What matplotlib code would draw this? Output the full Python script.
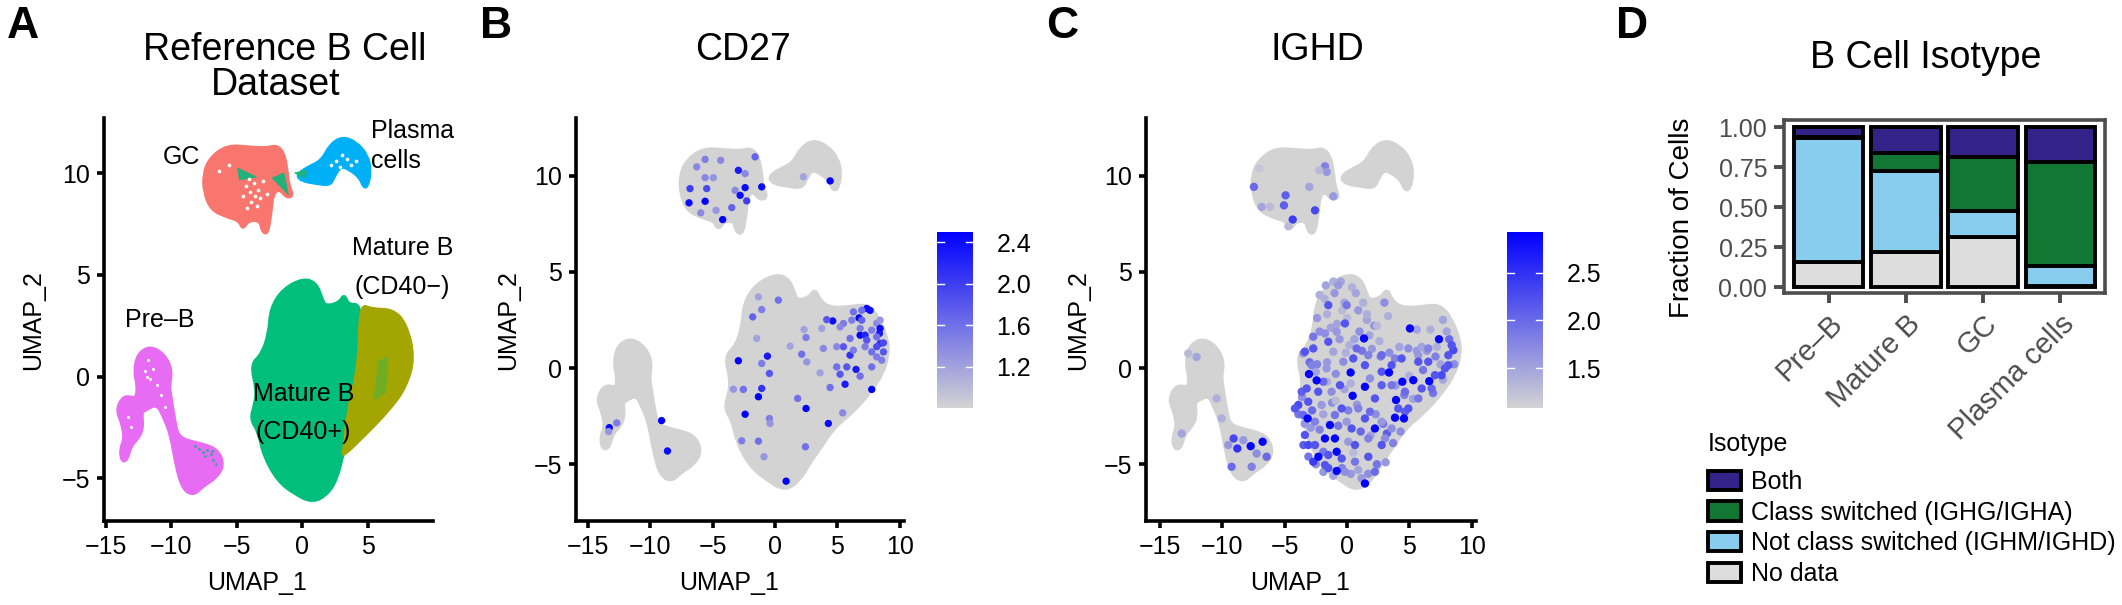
import matplotlib
matplotlib.use('Agg')
import matplotlib.pyplot as plt
from matplotlib.colors import LinearSegmentedColormap
from matplotlib.patches import Patch, PathPatch
from matplotlib.path import Path

plt.rcParams['font.family'] = ['Liberation Sans', 'DejaVu Sans']

# Cluster outlines
mature_x = [0.13, 1.07, 1.47, 1.74, 2.81, 3.21, 3.48, 4.28, 5.75, 7.36, 8.29, 8.96, 9.0, 8.56, 7.49, 6.02, 4.68,
            3.61, 2.67, 2.0, 0.8, -0.67, -1.87, -2.94, -3.34, -3.96, -3.61, -3.48, -3.93, -3.08, -2.54, -2.41, -1.47]
mature_y = [4.83, 4.57, 3.88, 3.45, 3.62, 4.05, 3.53, 3.1, 3.1, 3.27, 2.58, 1.45, 0.68, -0.28, -1.32, -2.35, -3.05,
            -4.09, -4.95, -5.73, -6.34, -5.73, -5.12, -3.91, -2.7, -2.09, -1.32, -0.62, 0.59, 1.11, 2.15, 3.36, 4.31]
cd40pos_x = [0.13, 1.07, 1.47, 1.74, 2.81, 3.21, 3.48, 4.48, 4.35, 4.2, 3.45, 3.2, 3.05, 2.67, 2.0, 0.8, -0.67,
             -1.87, -2.94, -3.34, -3.96, -3.61, -3.48, -3.93, -3.08, -2.54, -2.41, -1.47]
cd40pos_y = [4.83, 4.57, 3.88, 3.45, 3.62, 4.05, 3.53, 3.55, 1.66, 0.19, -1.79, -3.6, -3.93, -4.95, -5.73, -6.2, -5.73,
             -5.12, -3.91, -2.7, -2.09, -1.32, -0.62, 0.59, 1.11, 2.15, 3.36, 4.31]
cd40neg_x = [4.48, 5.3, 6.87, 7.9, 8.55, 7.9, 6.64, 4.6, 3.05, 3.2, 3.45, 4.2, 4.35]
cd40neg_y = [3.55, 3.3, 3.3, 2.63, 0.96, -0.51, -1.63, -2.98, -3.93, -3.6, -1.79, 0.19, 1.66]
streak_x = [5.8, 6.6, 6.4, 5.4]
streak_y = [0.8, 1.0, -0.8, -1.2]
preb_x = [-11.64, -10.57, -9.98, -10.17, -10.08, -9.76, -9.5, -8.43, -7.36, -6.42, -6.02, -6.55, -7.62, -8.29, -9.1,
          -9.63, -10.03, -10.57, -11.1, -12.04, -12.3, -12.17, -12.57, -13.11, -13.38, -13.78, -13.91, -13.56, -13.78,
          -14.18, -13.78, -13.24, -12.7, -12.57, -12.84, -12.57]
preb_y = [1.49, 1.11, 0.33, -0.45, -0.88, -2.18, -2.96, -3.22, -3.36, -3.65, -4.35, -4.95, -5.39, -5.82, -5.56,
          -4.43, -2.87, -2.01, -1.32, -1.66, -1.75, -2.53, -3.05, -3.39, -4.09, -4.17, -3.57, -3.05, -2.27,
          -1.66, -1.06, -0.97, -1.11, -0.45, 0.24, 1.11]
gc_x = [-5.75, -3.88, -2.67, -2.0, -1.47, -1.2, -1.07, -0.72, -1.2, -1.74, -2.27, -2.41, -2.67, -3.08, -3.21, -4.15,
        -4.55, -4.82, -5.75, -6.96, -7.49, -7.54, -7.09]
gc_y = [11.38, 11.27, 11.24, 11.36, 11.06, 10.29, 9.42, 8.9, 8.81, 9.25, 8.99, 8.04, 7.0, 7.17, 7.69, 7.69,
        7.25, 7.69, 7.86, 8.21, 9.07, 9.94, 10.72]
plasma_x = [-0.45, 0.4, 1.47, 2.14, 3.08, 4.15, 4.95, 5.22, 4.95, 4.68, 4.41, 3.61, 2.94, 2.41, 2.14, 1.07, 0.0]
plasma_y = [9.9, 10.29, 10.6, 11.41, 11.79, 11.5, 10.89, 10.11, 9.33, 9.33, 9.8, 10.2, 10.37, 9.85, 9.42, 9.51, 9.63]

# Small green bits inside GC and the plasma tail (panel A only)
gc_patch_x = [[-4.96, -3.5, -4.8], [-2.3, -1.4, -1.07], [-0.6, 0.4, 0.15]]
gc_patch_y = [[10.27, 9.82, 9.67], [9.77, 10.02, 8.94], [10.02, 10.17, 9.77]]
gc_hole_x = [-4.3, -4.0, -3.7, -3.4, -4.5, -3.9, -3.2, -4.1, -3.6, -2.7, -5.6, -6.4, -3.0, -4.2, -3.5]
gc_hole_y = [9.4, 9.1, 9.5, 9.2, 8.9, 8.6, 8.8, 9.7, 8.9, 9.0, 10.4, 10.1, 9.6, 8.3, 8.4]
plasma_hole_x = [2.6, 3.0, 3.4, 3.7, 2.2, 2.9, 4.1]
plasma_hole_y = [10.6, 10.9, 10.7, 10.4, 10.4, 10.3, 10.6]
preb_hole_x = [-11.8, -11.4, -12.0, -11.6, -11.1, -10.8, -10.5, -13.3, -13.1, -11.9]
preb_hole_y = [0.8, 0.4, 0.3, -0.1, -0.4, -0.9, -1.5, -2.0, -2.5, 0.0]
preb_teal_x = [-7.9, -7.6, -7.3, -7.0, -6.8, -6.6, -7.4, -6.9, -8.2]
preb_teal_y = [-3.55, -3.7, -3.6, -3.8, -4.1, -4.3, -3.9, -3.65, -3.4]

# CD27 expressing cells
cd27_x = [-5.61, -6.9, -4.2, -2.27, -3.47, -5.48, -6.82, -5.61, -6.28, -4.36, -2.4, -3.2, -2.94, -1.07, -2.4, -2.8,
          -5.96, -4.73, -1.6, -5.61, -4.95, 4.42, 2.28, -2.94, -1.07, -1.33, -2.4, 0.89, 2.49, 4.28, 1.82, -0.45,
          -0.4, -2.67, -1.33, -0.88, 2.44, 5.43, 0.27, -1.79, -1.33, -1.47, -1.07, 2.33, 2.49, 1.21, 2.14, 2.55,
          3.62, 3.75, 3.88, -0.45, -1.07, -0.61, -3.34, -2.54, 4.63, 4.15, 5.76, 4.95, 5.22, 6.02, 6.02, 6.5,
          6.83, 4.42, 5.62, 7.76, 5.49, 6.29, 6.74, 6.83, 7.23, 8.38, 8.43, 8.7, 8.16, 7.36, 7.63, 6.96, 6.29,
          6.16, 5.49, 5.22, 6.83, 7.36, 7.76, 8.16, 8.43, 7.76, 8.16, 8.7, 4.95, 7.23, 6.96, 8.43, 8.16, 8.56,
          7.76, -13.3, -12.7, -13.35, -9.1, -8.63]
cd27_y = [8.67, 8.59, 7.72, 8.69, 8.34, 9.33, 9.33, 9.9, 10.46, 10.8, 10.11, 9.24, 10.28, 9.42, 9.38, 8.98,
          8.07, 8.2, 10.98, 10.85, 9.9, 9.73, 9.94, 0.38, -1.06, -1.49, -2.4, -5.88, -2.1, -2.88, -1.58, -2.62,
          -2.88, -3.78, -3.8, -4.61, -4.09, -2.33, 3.53, 2.66, 3.7, 1.54, 3.04, 2.0, 1.59, 1.14, 0.72, 0.32,
          -0.25, 2.06, 1.02, -0.28, 0.24, 0.62, -1.1, -1.11, 2.45, 2.52, 0.06, 0.06, -0.32, 1.54, 0.67, -0.07,
          -0.42, -1.01, -0.84, -1.11, 1.11, 0.93, 2.61, 1.71, 1.71, 1.8, 1.28, 1.31, 1.11, 3.1, 3.0, 3.0, 2.92,
          2.49, 2.32, 2.14, 2.06, 1.45, 1.97, 2.32, 2.49, 0.84, 0.58, 0.84, 1.11, 1.11, 2.49, 2.06, 1.62, 0.41,
          0.06, -3.1, -2.85, -3.3, -2.73, -4.31]
cd27_val = [2.5, 2.4, 2.5, 2.0, 1.7, 1.9, 2.0, 1.4, 1.4, 1.4, 1.4, 1.4, 2.3, 2.4, 2.4, 2.4,
            1.4, 1.3, 1.7, 1.5, 1.3, 2.5, 1.2, 2.5, 2.1, 2.5, 2.5, 2.5, 2.5, 2.4, 1.6, 1.5,
            1.3, 1.5, 1.6, 1.3, 1.6, 1.4, 1.6, 1.7, 1.2, 1.2, 1.5, 1.2, 1.5, 1.2, 1.6, 1.3,
            1.2, 1.2, 1.4, 1.8, 1.5, 2.3, 1.3, 1.6, 2.4, 1.8, 1.8, 1.6, 1.8, 1.6, 2.1, 2.3,
            1.6, 1.6, 2.3, 2.5, 1.8, 1.5, 2.5, 2.5, 2.2, 2.3, 2.1, 1.9, 1.9, 2.4, 2.4, 1.6, 1.6,
            1.5, 1.5, 1.4, 1.5, 1.8, 1.5, 1.4, 1.3, 1.6, 1.5, 1.8, 1.4, 1.5, 1.7, 2.4, 1.6, 1.5,
            1.6, 2.5, 1.5, 1.3, 2.5, 2.4]

# IGHD expressing cells, light ones first so the strong ones stay on top
ighd_light_x = [-3.6, -3.9, -3.4, -2.8, -2.9, -2.2, -1.9, -1.2, -0.7, -0.2, 0.1, 0.8, 1.1, 1.9, 2.3, 2.9, 3.2, 3.9, 4.6,
                5.3, 6.1, 6.4, 7.1, 7.5, 8.2, 8.6, 7.7, 6.9, 5.6, 5.0, 4.2, 3.4, 2.7, 2.0, 1.2, 0.6, -0.1, -0.9, -1.6,
                -2.4, -3.0, -3.5, -3.1, -2.5, -1.9, -1.1, -0.4, 0.3, 0.9, 1.7, 2.4, 3.1, 3.7, 4.3, -2.2, -1.3, -0.6, 0.2,
                1.0, 1.8, 2.6, -2.4, -1.6, -0.8, 0.0, 0.9, 1.6, 2.2, -1.8, -1.0, -0.2, 0.7, 1.3, -0.5, 0.4,
                -2.2, -1.7, -1.1, -0.4, 0.3, -2.5, -1.6, -0.9, 0.5, 3.3, 2.4, 1.6, 3.0, 5.6, 6.7, 7.7, 8.0, 7.2, 6.0,
                -1.77, -0.83, -0.03, -0.7, -2.71, -1.1, -0.3, 0.77, 1.71, -1.64, -1.9, -1.24, -3.91, -3.51, -2.57,
                -2.04, -0.97, -0.03, 0.9, 1.84, 2.78, 3.58, 4.65, 5.72, 6.79, 7.59, 8.13, 8.53, 6.52, 5.72, 4.92,
                3.85, 2.78, 2.78, 3.58, 4.65, 1.84, -3.11, -2.71, -1.9, -1.5, -0.17, 0.64, 1.17, 2.24, 3.05, 1.71,
                0.1, -3.64, -2.84, -3.51]
ighd_light_y = [-1.5, -2.4, -2.9, -2.2, -3.1, -3.2, -2.4, -1.8, -3.0, -1.1, -2.2, -1.9, -3.3, -3.5, -2.4, -2.9, -3.4, -0.9, -1.4,
                -1.6, -0.1, 0.9, 0.6, 0.2, 1.5, 0.2, -0.6, -1.3, 0.9, -0.4, 1.1, 0.8, 0.6, 1.0, 0.9, 1.5, 0.8, -0.3, 0.3,
                0.2, 0.3, -4.0, -4.6, -5.0, -5.4, -5.6, -5.2, -5.5, -5.3, -5.5, -5.0, -4.9, -3.9, -3.3, 1.9, 2.1, 1.5, 1.2,
                1.9, 1.7, 1.4, 2.6, 2.8, 2.3, 2.6, 3.0, 2.5, 2.2, 3.6, 3.9, 3.4, 3.9, 3.4, 4.5, 4.2,
                3.8, 4.3, 4.5, 3.0, -0.8, -0.2, -0.7, -1.7, -4.4, 2.7, 2.2, 2.8, 3.4, 2.0, 2.0, 2.5, 1.9, 1.1, 1.1,
                1.8, 1.89, 3.27, 4.31, 1.63, 0.85, 0.33, 1.02, 0.67, -0.02, -0.71, -1.23, -1.92, -2.44, -2.79,
                -1.92, -2.44, -2.79, -2.1, -2.27, -2.79, -3.14, -2.27, -1.58, -1.06, -0.37, 0.15, 0.93, 1.02, 0.67, 1.02,
                0.5, 0.67, -0.89, -0.89, -1.23, -0.54, -4.0, -4.87, -4.35, -5.2, -5.39, -4.87, -5.73, -5.39, -3.66, -3.66,
                -3.83, -1.23, 0.15, 0.76]
ighd_light_val = [1.7, 1.9, 1.6, 2.0, 1.6, 1.8, 1.5, 1.7, 1.9, 1.5, 1.8, 1.6, 2.0, 1.5, 1.7, 1.9, 2.1, 1.6, 1.8,
                  1.5, 1.9, 1.6, 1.8, 1.5, 2.0, 1.7, 1.5, 1.9, 1.6, 1.4, 1.5, 1.7, 1.8, 1.6, 1.9, 1.5, 1.4, 1.7, 1.6,
                  1.8, 2.0, 2.1, 1.9, 1.7, 1.6, 1.5, 1.8, 1.6, 1.5, 1.7, 1.9, 1.6, 1.8, 1.7, 1.7, 1.5, 1.6, 1.4,
                  1.7, 1.5, 1.4, 1.6, 1.4, 1.5, 1.3, 1.6, 1.5, 1.7, 1.4, 1.6, 1.5, 1.5, 1.4, 1.5, 1.4,
                  1.4, 1.5, 1.4, 1.3, 1.4, 1.5, 1.4, 1.3, 1.3, 1.4, 1.3, 1.4, 1.7, 1.5, 1.4, 1.5, 1.5, 1.4, 1.5,
                  1.7, 1.6, 1.9, 1.6, 1.9, 1.5, 1.7, 2.0, 1.8, 1.6, 2.0, 1.7, 2.3, 2.0, 1.8,
                  1.6, 1.9, 1.6, 1.8, 2.0, 1.6, 1.7, 2.1, 1.9, 2.0, 2.3, 2.2, 2.3, 1.8, 1.6, 1.7,
                  1.8, 2.0, 2.1, 1.9, 2.0, 1.7, 2.3, 2.4, 1.9, 2.2, 1.7, 1.9, 1.6, 2.0, 1.7, 1.8,
                  1.6, 2.1, 1.8, 1.6]
ighd_mid_x = [-4.18, -3.24, -3.11, -2.31, -3.38, -2.57, -1.5, -1.77, -0.43, 0.64, 1.71, 2.78, 0.37, 1.44, -0.43,
              -0.57, 0.5, 1.44, 2.78, 3.58, 2.24, 4.11, 4.92, 5.99, 7.06, 8.13, 8.4, 7.86, 6.52, 5.72, 4.38, -1.5,
              -0.17, -1.5, -2.71, -3.38]
ighd_mid_y = [-2.1, -1.06, -1.75, -1.23, -3.48, -4.0, -4.52, -5.04, -4.7, -4.0, -4.61, -4.0, -3.14, -2.62, -2.1,
              -0.89, 0.5, 0.15, -0.19, 0.15, -1.58, -2.1, -2.1, -1.06, -0.37, 0.67, 1.19, -0.02, 0.33, 0.33, 0.5, 3.27,
              2.32, 1.37, 1.02, 0.85]
ighd_mid_val = [2.2] * len(ighd_mid_x)
ighd_high_x = [-3.05, -2.44, -3.16, -1.77, -0.97, 0.29, 1.44, 0.45, -0.83, -0.83, 2.24, 3.93, 3.85, 4.57, 4.44, 5.32,
               5.05, 7.38, 3.37, 1.36, -1.37, 1.44, -2.3, 6.6]
ighd_high_y = [-0.31, -0.64, -2.62, -3.66, -3.66, -0.23, -0.97, -1.44, -5.35, -4.35, -3.14, -1.66, -2.58, -2.62, -0.71, -0.63,
               2.06, 1.5, -0.23, 1.54, -2.96, -6.0, -4.61, -0.68]
ighd_high_val = [2.9] * len(ighd_high_x)
ighd_other_x = [-7.73, -6.77, -8.8, -9.1, -7.65, -9.26, -6.45, -8.32, -9.53, -7.25, -12.07, -12.74, -13.27, -10.46, -10.06,
                -7.47, -4.93, -5.06, -4.36, -1.77, -1.63, -2.22, -3.03, -1.1, -6.85, -6.18, -7.04, -4.71, -2.57]
ighd_other_y = [-4.06, -3.83, -4.18, -3.66, -5.13, -5.13, -4.61, -3.75, -4.0, -4.44, 0.58, 0.76, -3.4, -1.58, -2.62,
                9.42, 8.98, 8.46, 7.72, 10.49, 10.2, 10.28, 9.42, 8.93, 8.38, 8.38, 10.37, 7.37, 8.2]
ighd_other_val = [2.9, 2.9, 2.5, 2.3, 1.8, 2.0, 2.0, 1.6, 1.6, 1.7, 1.5, 1.3, 1.5, 1.4, 1.4,
                  2.0, 2.1, 2.1, 2.4, 1.8, 1.6, 1.3, 1.5, 1.6, 1.5, 1.3, 1.2, 1.3, 2.3]
ighd_x = ighd_light_x + ighd_mid_x + ighd_high_x + ighd_other_x
ighd_y = ighd_light_y + ighd_mid_y + ighd_high_y + ighd_other_y
ighd_val = ighd_light_val[:len(ighd_light_x)] + ighd_mid_val + ighd_high_val + ighd_other_val

# Stacked bars in panel D
cell_types = ['Pre\u2013B', 'Mature B', 'GC', 'Plasma cells']
no_data = [0.156, 0.216, 0.314, 0.005]
not_switched = [0.774, 0.509, 0.164, 0.128]
class_switched = [0.01, 0.111, 0.337, 0.647]
both = [0.06, 0.164, 0.185, 0.22]
isotypes = ['Both', 'Class switched (IGHG/IGHA)', 'Not class switched (IGHM/IGHD)', 'No data']
isotype_colors = ['#332288', '#117733', '#88CCEE', '#DDDDDD']

W, H = 2122, 605
cell_colors = {'gc': '#F8766D', 'cd40neg': '#A3A500', 'cd40pos': '#00BF7D', 'plasma': '#00B0F6', 'preb': '#E76BF3'}
feature_cmap = LinearSegmentedColormap.from_list('feature', ['#D3D3D3', '#0000FF'])
FS = 18


def add_axes_px(fig, left, right, top, bottom):
    return fig.add_axes([left / W, 1 - bottom / H, (right - left) / W, (bottom - top) / H])


def fig_text(fig, x, y, s, **kw):
    kw.setdefault('ha', 'center')
    kw.setdefault('va', 'center')
    fig.text(x / W, 1 - y / H, s, **kw)


def add_blob(ax, xs, ys, color, lw):
    # rounded outline: the read points are the control points of quadratic curves
    n = len(xs)
    mids = [((xs[i] + xs[(i + 1) % n]) / 2, (ys[i] + ys[(i + 1) % n]) / 2) for i in range(n)]
    verts = [mids[-1]]
    codes = [Path.MOVETO]
    for i in range(n):
        verts += [(xs[i], ys[i]), mids[i]]
        codes += [Path.CURVE3, Path.CURVE3]
    ax.add_patch(PathPatch(Path(verts, codes), facecolor=color, edgecolor=color, lw=lw, joinstyle='round'))


def style_umap(ax, xlim, ylim, xticks):
    ax.set_xlim(*xlim)
    ax.set_ylim(*ylim)
    ax.set_xticks(xticks)
    ax.set_yticks([-5, 0, 5, 10])
    for side in ['top', 'right']:
        ax.spines[side].set_visible(False)
    for side in ['left', 'bottom']:
        ax.spines[side].set_linewidth(2.6)
    ax.tick_params(width=2.6, length=5, labelsize=FS, pad=5)


fig = plt.figure(figsize=(W / 100, H / 100), dpi=100)

# Panel A
ax_a = add_axes_px(fig, 104, 433, 118, 521)
for xs, ys, key in [(cd40pos_x, cd40pos_y, 'cd40pos'), (cd40neg_x, cd40neg_y, 'cd40neg'),
                    (gc_x, gc_y, 'gc'), (plasma_x, plasma_y, 'plasma'), (preb_x, preb_y, 'preb')]:
    add_blob(ax_a, xs, ys, cell_colors[key], 2.5)
ax_a.fill(streak_x, streak_y, color='#00BF7D', alpha=0.3, lw=0)
for xs, ys in zip(gc_patch_x, gc_patch_y):
    ax_a.fill(xs, ys, color='#1FB27A', lw=0.5)
ax_a.scatter(gc_hole_x + plasma_hole_x, gc_hole_y + plasma_hole_y, s=7, color='white', lw=0)
ax_a.scatter(preb_hole_x, preb_hole_y, s=5, color='white', lw=0)
ax_a.scatter(preb_teal_x, preb_teal_y, s=4, color='#2FA89A', lw=0)
style_umap(ax_a, (-15.15, 9.98), (-7.1, 12.72), [-15, -10, -5, 0, 5])
ax_a.text(-9.24, 10.8, 'GC', fontsize=FS, ha='center', va='center')
ax_a.text(5.27, 12.08, 'Plasma', fontsize=FS, ha='left', va='center')
ax_a.text(5.27, 10.6, 'cells', fontsize=FS, ha='left', va='center')
ax_a.text(7.63, 6.33, 'Mature B', fontsize=FS, ha='center', va='center')
ax_a.text(7.63, 4.41, '(CD40\u2212)', fontsize=FS, ha='center', va='center')
ax_a.text(-10.9, 2.8, 'Pre\u2013B', fontsize=FS, ha='center', va='center')
ax_a.text(0.08, -0.85, 'Mature B', fontsize=FS, ha='center', va='center')
ax_a.text(0.08, -2.72, '(CD40+)', fontsize=FS, ha='center', va='center')

# Panels B and C
panels = [
    (576, 904, (-15.97, 10.35), cd27_x, cd27_y, cd27_val, (0.805, 2.5), [1.2, 1.6, 2.0, 2.4], 937, 28),
    (1146, 1476, (-16.13, 10.35), ighd_x, ighd_y, ighd_val, (1.08, 2.93), [1.5, 2.0, 2.5], 1507, 36),
]
for left, right, xlim, xs, ys, vals, vrange, cticks, cleft, dot in panels:
    ax = add_axes_px(fig, left, right, 118, 521)
    for ox, oy in [(mature_x, mature_y), (gc_x, gc_y), (plasma_x, plasma_y), (preb_x, preb_y)]:
        add_blob(ax, ox, oy, '#D3D3D3', 4)
    sc = ax.scatter(xs, ys, c=vals, s=dot, cmap=feature_cmap, vmin=vrange[0], vmax=vrange[1], lw=0)
    style_umap(ax, xlim, (-7.95, 13.0), [-15, -10, -5, 0, 5, 10])

    cax = add_axes_px(fig, cleft, cleft + 36, 232, 408)
    cb = fig.colorbar(sc, cax=cax, ticks=cticks)
    cb.outline.set_visible(False)
    cb.ax.tick_params(length=0, labelsize=FS, pad=17)
    cb.ax.set_yticklabels([f'{t:.1f}' for t in cticks])
    for t in cticks:
        cax.plot([0, 0.2], [t, t], color='white', lw=1, transform=cax.get_yaxis_transform())
        cax.plot([0.8, 1], [t, t], color='white', lw=1, transform=cax.get_yaxis_transform())

for x in [257, 729, 1300]:
    fig_text(fig, x, 583, 'UMAP_1', fontsize=FS)
for x in [33, 508, 1078]:
    fig_text(fig, x, 320, 'UMAP_2', fontsize=FS, rotation=90)

fig_text(fig, 285, 50, 'Reference B Cell', fontsize=27)
fig_text(fig, 276, 85, 'Dataset', fontsize=27)
fig_text(fig, 743, 50, 'CD27', fontsize=27)
fig_text(fig, 1317, 50, 'IGHD', fontsize=27)
fig_text(fig, 1926, 58, 'B Cell Isotype', fontsize=27)

for x, letter in [(23, 'A'), (496, 'B'), (1062, 'C'), (1632, 'D')]:
    fig_text(fig, x, 27, letter, fontsize=32, fontweight='bold')

# Panel D
ax_d = add_axes_px(fig, 1784, 2105, 120, 293)
pos = list(range(len(cell_types)))
edge = dict(edgecolor='black', linewidth=2.8, width=0.9)
ax_d.bar(pos, no_data, color=isotype_colors[3], **edge)
bottom = list(no_data)
ax_d.bar(pos, not_switched, bottom=bottom, color=isotype_colors[2], **edge)
bottom = [a + b for a, b in zip(bottom, not_switched)]
ax_d.bar(pos, class_switched, bottom=bottom, color=isotype_colors[1], **edge)
bottom = [a + b for a, b in zip(bottom, class_switched)]
ax_d.bar(pos, both, bottom=bottom, color=isotype_colors[0], **edge)
ax_d.set_xlim(-0.58, 3.58)
ax_d.set_ylim(-0.0375, 1.044)
ax_d.set_yticks([0, 0.25, 0.5, 0.75, 1.0])
ax_d.set_yticklabels(['0.00', '0.25', '0.50', '0.75', '1.00'])
ax_d.set_xticks(pos)
ax_d.set_xticklabels(cell_types, rotation=45, ha='right', rotation_mode='anchor', fontsize=21)
ax_d.tick_params(axis='y', labelsize=FS)
ax_d.tick_params(width=2.8, length=7, color='#4D4D4D', labelcolor='#4D4D4D', pad=5)
for side in ax_d.spines.values():
    side.set_linewidth(2.6)
    side.set_color('#4D4D4D')
fig_text(fig, 1682, 218, 'Fraction of Cells', fontsize=20, rotation=90)

handles = [Patch(facecolor=c, edgecolor='black', linewidth=2.8) for c in isotype_colors]
leg = ax_d.legend(handles, isotypes, title='Isotype', loc='upper left', bbox_to_anchor=(1708 / W, 1 - 432 / H),
                  bbox_transform=fig.transFigure, frameon=False, fontsize=18, title_fontsize=18,
                  handlelength=1.32, handleheight=0.8, labelspacing=0.27, handletextpad=0.4, borderpad=0,
                  borderaxespad=0, alignment='left')
leg._legend_box.sep = 10

fig.savefig('out.png', dpi=100)
